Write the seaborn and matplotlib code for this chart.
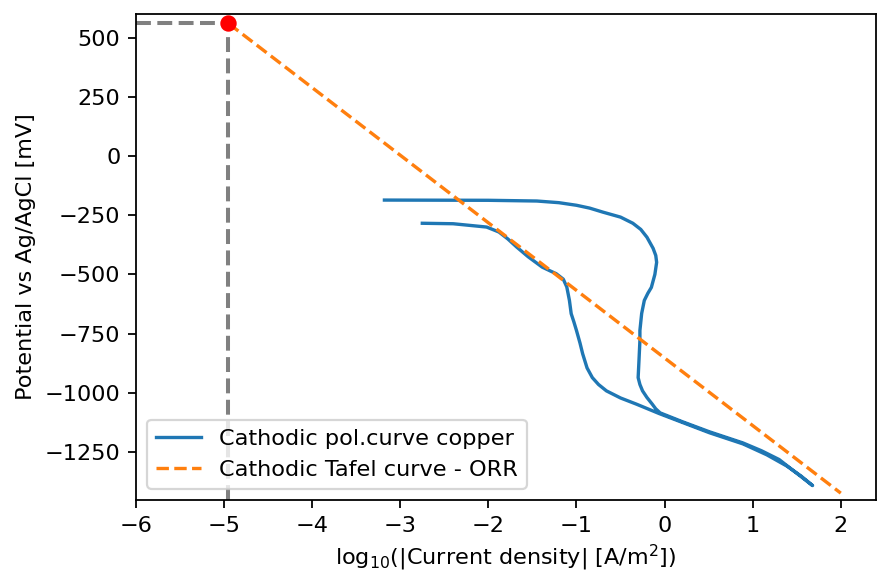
import numpy as np
import pandas as pd
import matplotlib
matplotlib.use("Agg")
import matplotlib.pyplot as plt
import seaborn as sns

# Cathodic polarization curve (forward scan then reverse scan)
log_i = [-2.75, -2.40, -2.02, -1.88, -1.78, -1.68, -1.55, -1.39, -1.30, -1.23, -1.15, -1.11,
         -1.08, -1.06, -1.03, -1.00, -0.96, -0.93, -0.88, -0.82, -0.75, -0.66, -0.50,
         -0.32, -0.06, 0.20, 0.51, 0.89, 1.16, 1.39, 1.55, 1.68,
         1.50, 1.30, 1.10, 0.89, 0.51, 0.20, -0.05, -0.10, -0.14, -0.20, -0.25, -0.28,
         -0.30, -0.29, -0.28, -0.28, -0.26, -0.23, -0.19, -0.15, -0.11, -0.09, -0.10,
         -0.13, -0.20, -0.27, -0.36, -0.50, -0.70, -0.85, -1.00, -1.20, -1.45, -2.00,
         -3.18]
potential = [-284, -286, -300, -321, -350, -384, -425, -469, -485, -497, -520, -553,
             -610, -666, -700, -737, -790, -835, -895, -936, -965, -992, -1022,
             -1048, -1088, -1125, -1169, -1216, -1262, -1310, -1352, -1392,
             -1340, -1282, -1245, -1212, -1165, -1122, -1085, -1068, -1048, -1020, -992, -965,
             -936, -860, -780, -737, -665, -610, -580, -555, -500, -449, -420,
             -390, -343, -310, -284, -258, -237, -220, -208, -197, -190, -187,
             -186]

# Tafel line (ORR)
tafel_x = [-4.95, 2.0]
tafel_y = [560, -1424]

# Intersection point
pt_x = -4.95
pt_y = 560

DPI = 161
fig = plt.figure(figsize=(877 / DPI, 572 / DPI), dpi=DPI)
ax = fig.add_axes([136 / 877, 1 - 500 / 572, (876 - 136) / 877, (500 - 14) / 572])

df_curve = pd.DataFrame({"x": log_i, "y": potential})
df_tafel = pd.DataFrame({"x": tafel_x, "y": tafel_y})

sns.lineplot(data=df_curve, x="x", y="y", sort=False, color="#1f77b4", lw=1.5,
             label="Cathodic pol.curve copper", ax=ax, estimator=None)
sns.lineplot(data=df_tafel, x="x", y="y", sort=False, color="#ff7f0e", lw=1.5,
             linestyle="--", label="Cathodic Tafel curve - ORR", ax=ax, estimator=None)

ax.set_xlim(-6, 2.4)
ax.set_ylim(-1453, 600)
ax.plot([-6, pt_x], [pt_y, pt_y], color="gray", linestyle="--", lw=1.8)
ax.plot([pt_x, pt_x], [-1453, pt_y], color="gray", linestyle="--", lw=1.8)
ax.scatter([pt_x], [pt_y], color="red", s=40, zorder=5)

ax.set_xlabel("log$_{10}$(|Current density| [A/m$^2$])", labelpad=3)
ax.set_ylabel("Potential vs Ag/AgCl [mV]")
ax.set_xticks([-6, -5, -4, -3, -2, -1, 0, 1, 2])
ax.set_yticks([500, 250, 0, -250, -500, -750, -1000, -1250])
ax.legend(loc="lower left")

fig.savefig("out.png", dpi=DPI)
